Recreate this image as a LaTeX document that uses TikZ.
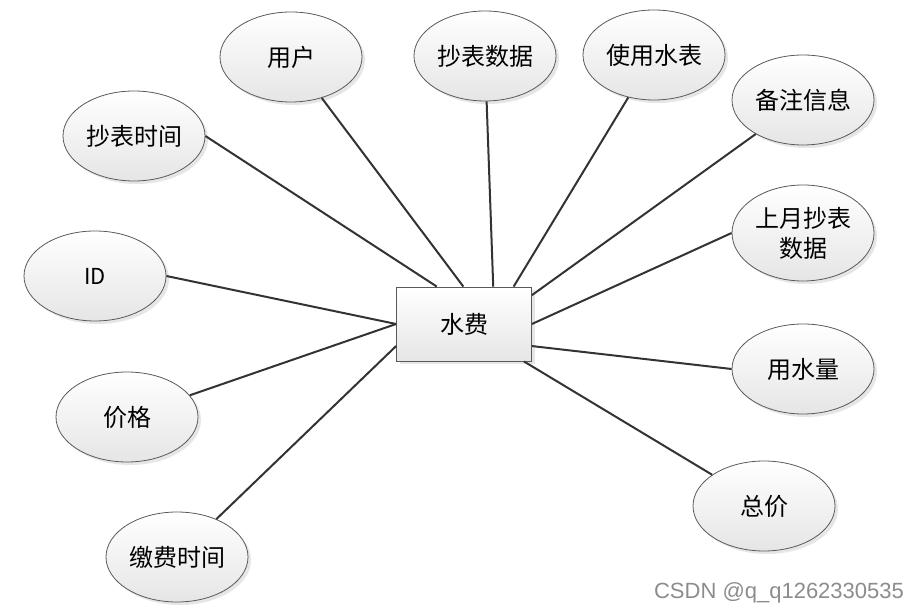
\documentclass[tikz,border=0pt]{standalone}
\usepackage{fontspec}
\setmainfont{Noto Sans CJK SC}
\newfontfamily\wmfont{Liberation Sans}
\usetikzlibrary{shapes.geometric,shadows}

\begin{document}
\begin{tikzpicture}[x=0.5pt,y=-0.5pt,
attr/.style={draw=black!65,line width=.4pt,ellipse,top color=white,bottom color=black!10,
  drop shadow={shadow xshift=1.5pt,shadow yshift=-1.5pt,opacity=.2},
  minimum width=71pt,minimum height=45pt,inner sep=0pt,align=center,
  font=\fontsize{12}{15}\selectfont},
entity/.style={draw=black!65,line width=.4pt,rectangle,top color=white,bottom color=black!10,
  drop shadow={shadow xshift=1.5pt,shadow yshift=-1.5pt,opacity=.2},
  minimum width=67.5pt,minimum height=37pt,inner sep=0pt,font=\fontsize{12}{15}\selectfont},
link/.style={draw=black!80,line width=1pt}]
\useasboundingbox (0,0) rectangle (924,613);
\node[entity](fee) at (464,324){水费};
\node[attr](user) at (291,57){用户};
\node[attr](readdata) at (485,56){抄表数据};
\node[attr](meter) at (654,55){使用水表};
\node[attr](note) at (803,100){备注信息};
\node[attr](readtime) at (134,136){抄表时间};
\node[attr,minimum height=48pt](lastread) at (803,233){上月抄表\\数据};
\node[attr,font=\fontsize{11}{14}\selectfont](id) at (95,276){ID};
\node[attr](usage) at (803,369){用水量};
\node[attr](price) at (127,417){价格};
\node[attr](total) at (764,506){总价};
\node[attr](paytime) at (177,557){缴费时间};
\draw[link](readtime.east)--(fee.126);\draw[link](user)--(fee.91);
\draw[link](readdata)--(fee.52);\draw[link](meter)--(fee.37);
\draw[link](note)--(fee.23);\draw[link](lastread.west)--(fee.0);
\draw[link](usage.west)--(fee.-18);\draw[link](total)--(fee.-32);
\draw[link](id.east)--(fee.180);\draw[link](price)--(fee.180);
\draw[link](paytime)--(fee.198);
\node[text=black!45,font=\wmfont\fontsize{11}{13}\selectfont,anchor=east](wm) at (911,593){CSDN @q\_q1262330535};
\end{tikzpicture}
\end{document}
